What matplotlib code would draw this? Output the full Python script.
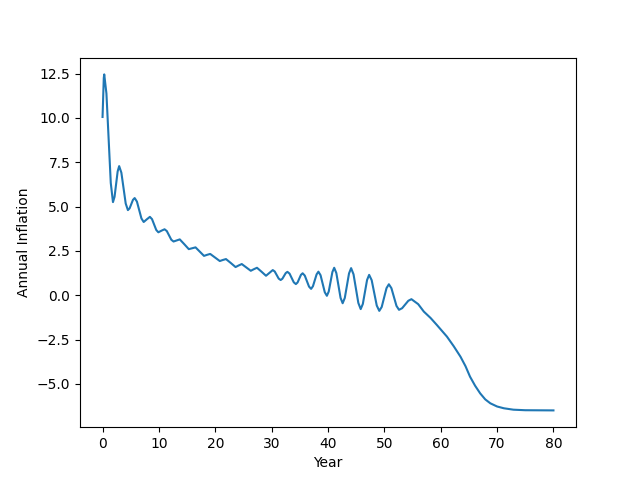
import matplotlib
matplotlib.use("Agg")
import matplotlib.pyplot as plt

# Valores (año, inflación anual)
years = [
    0.0, 0.12, 0.22, 0.3, 0.69, 1.08, 1.46, 1.85, 2.13, 2.4, 2.68, 2.95,
    3.34, 3.73, 4.11, 4.5, 4.8, 5.1, 5.4, 5.7, 6.1, 6.5, 6.9, 7.3, 7.85,
    8.4, 8.78, 9.15, 9.53, 9.9, 10.45, 11.0, 11.4, 11.8, 12.2, 12.6, 13.15,
    13.7, 14.5, 15.3, 15.9, 16.5, 17.25, 18.0, 18.55, 19.1, 19.95, 20.8,
    21.35, 21.9, 22.75, 23.6, 24.15, 24.7, 25.5, 26.3, 26.85, 27.4, 28.2,
    29.0, 29.6, 30.2, 30.55, 30.9, 31.25, 31.6, 31.9, 32.2, 32.5, 32.8,
    33.18, 33.55, 33.93, 34.3, 34.6, 34.9, 35.2, 35.5, 35.88, 36.25, 36.63,
    37.0, 37.33, 37.65, 37.98, 38.3, 38.68, 39.05, 39.43, 39.8, 40.13,
    40.45, 40.78, 41.1, 41.48, 41.85, 42.23, 42.6, 42.98, 43.35, 43.73,
    44.1, 44.53, 44.95, 45.38, 45.8, 46.18, 46.55, 46.93, 47.3, 47.75,
    48.2, 48.65, 49.1, 49.53, 49.95, 50.38, 50.8, 51.25, 51.7, 52.15,
    52.6, 53.15, 53.7, 54.25, 54.8, 56.0, 57.0, 58.2, 59.3, 60.2, 61.1,
    62.3, 63.5, 64.4, 65.2, 66.1, 67.0, 67.9, 68.8, 70.0, 71.2, 72.9,
    75.0, 80.0,
]
inflation = [
    10.05, 11.3, 12.25, 12.45, 11.37, 8.85, 6.33, 5.25, 5.55, 6.27, 6.98, 7.28,
    6.91, 6.04, 5.17, 4.8, 4.9, 5.14, 5.38, 5.48, 5.28, 4.81, 4.33, 4.13, 4.28,
    4.42, 4.29, 3.99, 3.68, 3.55, 3.64, 3.72, 3.62, 3.38, 3.13, 3.03, 3.09,
    3.15, 2.88, 2.6, 2.65, 2.7, 2.46, 2.22, 2.28, 2.33, 2.13, 1.93,
    1.99, 2.04, 1.82, 1.59, 1.68, 1.76, 1.57, 1.38, 1.47, 1.55, 1.33,
    1.1, 1.26, 1.42, 1.34, 1.14, 0.94, 0.86, 0.93, 1.09, 1.25, 1.32,
    1.22, 0.98, 0.73, 0.63, 0.72, 0.94, 1.15, 1.24, 1.11, 0.8, 0.49,
    0.36, 0.51, 0.85, 1.18, 1.33, 1.13, 0.65, 0.17, -0.03, 0.21,
    0.76, 1.31, 1.55, 1.25, 0.55, -0.15, -0.45, -0.15, 0.54, 1.23,
    1.53, 1.18, 0.38, -0.43, -0.78, -0.49, 0.19, 0.86, 1.15, 0.85,
    0.14, -0.58, -0.88, -0.66, -0.13, 0.4, 0.62, 0.4, -0.1, -0.6,
    -0.82, -0.73, -0.52, -0.31, -0.22, -0.5, -0.92, -1.28, -1.67, -2.0, -2.33,
    -2.87, -3.46, -4.0, -4.59, -5.1, -5.53, -5.87, -6.09, -6.27, -6.37, -6.45,
    -6.48, -6.49,
]


def main():
    fig = plt.figure(figsize=(6.4, 4.8), dpi=100)
    plt.plot(years, inflation)
    plt.xlabel("Year")
    plt.ylabel("Annual Inflation")
    fig.savefig("out.png")


if __name__ == '__main__':
    main()
